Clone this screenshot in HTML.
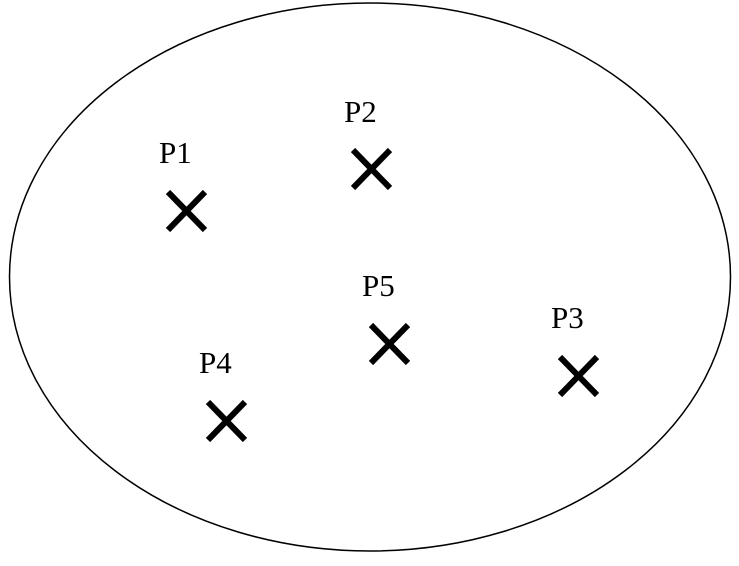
<!DOCTYPE html>
<html><head><style>body{margin:0;background:#fff}</style></head><body>
<svg width="739" height="561" xmlns="http://www.w3.org/2000/svg">
<ellipse cx="370" cy="277" rx="360.5" ry="274" fill="none" stroke="#000" stroke-width="1.5"/>
<g stroke="#000" stroke-width="6" fill="none">
<path d="M168 192L205 230M205 192L168 230"/>
<path d="M353 150L390 188M390 150L353 188"/>
<path d="M371 325L408 363M408 325L371 363"/>
<path d="M560 357L597 395M597 357L560 395"/>
<path d="M208 402L245 440M245 402L208 440"/>
</g>
<g font-family="'Liberation Serif', serif" font-size="31" fill="#000">
<text x="159" y="163">P1</text>
<text x="344" y="122">P2</text>
<text x="362" y="296">P5</text>
<text x="551" y="328">P3</text>
<text x="199" y="373">P4</text>
</g>
</svg>
</body></html>
